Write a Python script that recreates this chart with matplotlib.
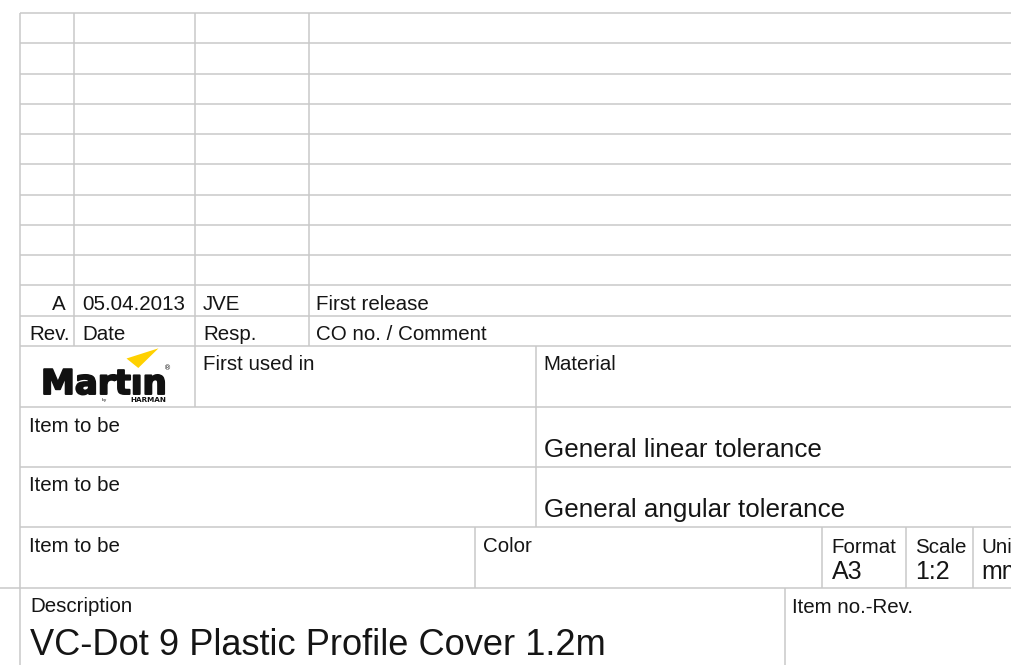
import matplotlib
matplotlib.use("Agg")
import matplotlib.pyplot as plt
from matplotlib.patches import Polygon
import matplotlib.patheffects as pe

# ---- content ----
rev_values = ["A", "05.04.2013", "JVE", "First release"]
rev_headers = ["Rev.", "Date", "Resp.", "CO no. / Comment"]
first_used_label = "First used in"
material_label = "Material"
item_labels = ["Item to be", "Item to be", "Item to be"]
tolerance_labels = ["General linear tolerance", "General angular tolerance"]
color_label = "Color"
format_headers = ["Format", "Scale", "Unit"]
format_values = ["A3", "1:2", "mm"]
description_label = "Description"
description_value = "VC-Dot 9 Plastic Profile Cover 1.2m"
item_no_label = "Item no.-Rev."

# ---- layout (pixel grid) ----
W, H = 1011, 665
rev_rows = [13 + i * 30.27 for i in range(12)]      # 13 ... 346
block_rows = [406.5, 466.7, 527.0, 587.5]
line_col = "#c9c9c9"
txt_col = "#151515"
FONT = "Liberation Sans"

fig = plt.figure(figsize=(W / 100, H / 100), dpi=100)
ax = fig.add_axes([0, 0, 1, 1])
ax.set_xlim(0, W)
ax.set_ylim(H, 0)
ax.axis("off")

lw = 1.1
def hl(y, x0, x1):
    ax.plot([x0, x1], [y, y], color=line_col, lw=lw, solid_capstyle="butt")
def vl(x, y0, y1):
    ax.plot([x, x], [y0, y1], color=line_col, lw=lw, solid_capstyle="butt")

for y in rev_rows:
    hl(y, 20, W + 5)
for y in block_rows[:3]:
    hl(y, 20, W + 5)
hl(block_rows[3], 0, W + 5)

vl(20, 13, H + 5)
vl(73.5, 13, 346)
vl(194.5, 13, 406.5)
vl(308.5, 13, 346)
vl(535.5, 346, 527)
vl(474.5, 527, 587.5)
vl(822, 527, 587.5)
vl(905.7, 527, 587.5)
vl(973, 527, 587.5)
vl(785, 587.5, H + 5)

def t(x, y, s, size=14.8, ha="left", **kw):
    ax.text(x, y, s, fontsize=size, ha=ha, va="baseline", color=txt_col,
            family=FONT, **kw)

# revision rows
t(66, 309.5, rev_values[0], ha="right")
t(82, 309.5, rev_values[1])
t(203, 309.5, rev_values[2])
t(316.5, 309.5, rev_values[3])
t(29, 339.5, rev_headers[0])
t(82, 339.5, rev_headers[1])
t(203, 339.5, rev_headers[2])
t(316.5, 339.5, rev_headers[3])

t(203, 369.5, first_used_label)
t(543.5, 370, material_label)

t(29, 431.7, item_labels[0])
t(29, 490.7, item_labels[1])
t(29, 552.5, item_labels[2])

t(543.5, 456.7, tolerance_labels[0], size=18.7)
t(543.5, 516.7, tolerance_labels[1], size=18.7)

t(482.7, 552.5, color_label)

for x, hdr, val in zip([831.5, 915, 981], format_headers, format_values):
    t(x, 553, hdr)
    t(x, 579, val, size=18)

t(30, 612, description_label)
t(30, 655, description_value, size=26.1)
t(791.5, 613, item_no_label)

# logo
ax.text(41, 394, "Mart\u0131n", fontsize=24.5, fontweight="bold", family="DejaVu Sans",
        color="#111111", ha="left", va="baseline",
        path_effects=[pe.withStroke(linewidth=1.4, foreground="#111111")])
ax.add_patch(Polygon([[126.5, 358.5], [158.5, 348.3], [138.3, 368]], closed=True,
                     facecolor="#ffd100", edgecolor="none"))
ax.text(167.5, 368.5, "\u00ae", fontsize=5, family="DejaVu Sans", color="#111111",
        ha="center", va="center")
ax.text(166, 401.5, "HARMAN", fontsize=5.2, fontweight="bold", family="DejaVu Sans",
        color="#111111", ha="right", va="baseline")
ax.text(107, 401.5, "by", fontsize=3.2, family="DejaVu Sans", color="#111111",
        ha="right", va="baseline")

fig.savefig("out.png", dpi=100, facecolor="white")
